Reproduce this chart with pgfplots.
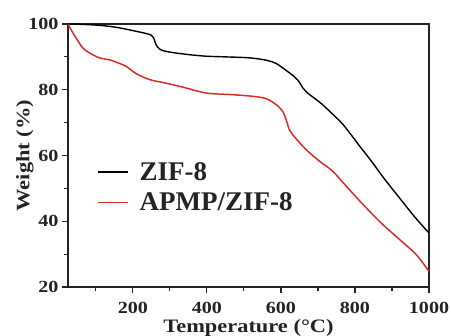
\documentclass[border=0pt]{standalone}
\usepackage{fontspec}
\setmainfont{Liberation Serif}
\newfontfamily\wfont[FakeStretch=1.18]{Liberation Serif}
\usepackage{pgfplots}
\usetikzlibrary{calc}
\pgfplotsset{compat=1.18}
\definecolor{myred}{RGB}{215,45,40}
\definecolor{txt}{RGB}{35,35,35}
\begin{document}
\begin{tikzpicture}
\begin{axis}[
  scale only axis, width=361pt, height=263pt,
  xmin=25, xmax=1000, ymin=20, ymax=100,
  xtick={200,400,600,800,1000}, ytick={20,40,60,80,100},
  xticklabels={200,400,600,800,1000}, yticklabels={20,40,60,80,100},
  minor xtick={100,300,500,700,900}, minor ytick={30,50,70,90},
  tick align=outside, xtick pos=bottom, ytick pos=left,
  major tick length=6pt, minor tick length=4pt,
  axis line style={line width=1.3pt, txt}, every tick/.style={line width=1.2pt, txt},
  tick label style={font=\wfont\fontsize{17}{17}\selectfont\bfseries, text=txt},
  xticklabel style={yshift=-6pt},
  xlabel={Temperature (°C)}, ylabel={Weight (\%)},
  label style={font=\wfont\fontsize{19}{19}\selectfont\bfseries, text=txt},
  xlabel style={at={(axis description cs:0.5,0)}, anchor=north, yshift=-28.5pt},
  ylabel style={at={(axis description cs:0,0.5)}, anchor=south, yshift=31pt},
  legend style={draw=none, fill=none, at={(0.072,0.49)}, anchor=north west,
    font=\fontsize{27}{29}\selectfont\bfseries, text=txt, row sep=7pt,
    /tikz/every odd column/.append style={column sep=9pt}},
  legend cell align=left,
  legend image post style={line width=1.6pt, xscale=1.75},
]
\addplot[black, line width=1.4pt, smooth] coordinates {
(25,100) (60,99.9) (110,99.6) (155,99) (200,98) (236,97.1) (250,96.6) (256,95.8) (263,93.7) (272,92.4) (285,91.8) (308,91.3) (350,90.7) (398,90.2) (450,90) (515,89.7) (560,89) (587,88) (614,85.9) (637,83.9) (650,82.3) (659,80.6) (672,79) (686,77.8) (710,75.7) (732,73.4) (768,69.4) (813,62.8) (845,58.2) (876,53.4) (921,47) (960,41.5) (1000,36.4)};
\addlegendentry{ZIF-8}
\addplot[myred, line width=1.5pt, smooth] coordinates {
(25,100) (33,98.3) (47,95.7) (65,92.7) (83,91.2) (110,89.7) (137,89.1) (155,88.4) (182,87.1) (209,84.9) (245,83.1) (290,82) (335,80.8) (398,79) (470,78.5) (524,78) (560,77.3) (587,75.5) (605,73.4) (614,70.9) (623,67.8) (632,66.3) (668,61.8) (705,58.2) (740,55.2) (785,49.6) (831,44) (876,38.9) (921,34.4) (966,29.8) (1000,24.7)};
\addlegendentry{APMP/ZIF-8}
\coordinate (sw) at (rel axis cs:0,0);
\coordinate (ne) at (rel axis cs:1,1);
\end{axis}
\pgfresetboundingbox
\useasboundingbox ($(sw)+(-68pt,-49pt)$) rectangle ($(ne)+(22pt,24pt)$);
\end{tikzpicture}
\end{document}
